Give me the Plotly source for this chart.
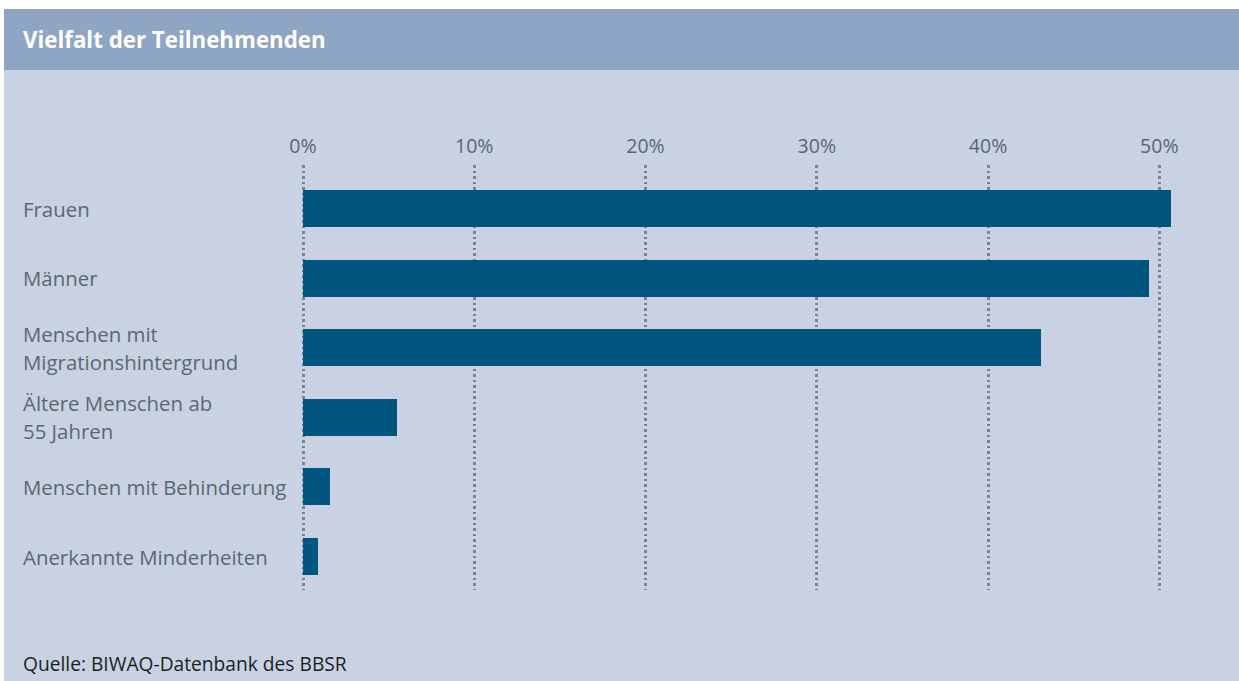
import plotly.graph_objects as go

# Data
categories = [
    "Frauen",
    "Männer",
    "Menschen mit<br>Migrationshintergrund",
    "Ältere Menschen ab<br>55 Jahren",
    "Menschen mit Behinderung",
    "Anerkannte Minderheiten",
]
shares = [50.7, 49.4, 43.1, 5.5, 1.6, 0.9]
tick_values = [0, 10, 20, 30, 40, 50]
tick_labels = ["0%", "10%", "20%", "30%", "40%", "50%"]

title_text = "Vielfalt der Teilnehmenden"
source_text = "Quelle: BIWAQ-Datenbank des BBSR"

# Styling
FONT = "Open Sans"
BAR = "#00567f"
PANEL = "#c8d2e2"
HEADER = "#8fa5c4"
LABEL = "#5b6770"
GRID = "#7a858e"

W, H = 1239, 681
ML, MR, MT, MB = 300, 28, 165, 91
PW, PH = W - ML - MR, H - MT - MB

# x scale: ~17.13 px per percentage point, with a little room left of 0 %
PX_PER_UNIT = 17.126
X_LO = -3 / PX_PER_UNIT
X_HI = X_LO + PW / PX_PER_UNIT


def px_x(px):
    return (px - ML) / PW


def px_y(py):
    return (H - MB - py) / PH


fig = go.Figure(
    go.Bar(
        x=shares,
        y=list(range(len(categories))),
        orientation="h",
        marker=dict(color=BAR, line=dict(width=0)),
        width=0.53,
        hoverinfo="skip",
    )
)

shapes = [
    dict(type="rect", xref="paper", yref="paper", layer="below",
         x0=px_x(4), x1=px_x(W), y0=px_y(9), y1=px_y(H),
         fillcolor=PANEL, line=dict(width=0)),
    dict(type="rect", xref="paper", yref="paper", layer="below",
         x0=px_x(4), x1=px_x(W), y0=px_y(9), y1=px_y(70),
         fillcolor=HEADER, line=dict(width=0)),
]

annotations = [
    dict(text=f"<b>{title_text}</b>", xref="paper", yref="paper",
         x=px_x(23), y=px_y(39), xanchor="left", yanchor="middle",
         borderpad=0, borderwidth=0,
         showarrow=False, font=dict(family=FONT, size=22.3, color="white")),
    dict(text=source_text, xref="paper", yref="paper",
         x=px_x(23), y=px_y(663), xanchor="left", yanchor="middle",
         borderpad=0, borderwidth=0,
         showarrow=False, font=dict(family=FONT, size=19.2, color="#1e1e1e")),
]

# Category labels, left aligned, one annotation per text line
line_gap = 28
for i, cat in enumerate(categories):
    lines = cat.split("<br>")
    n = len(lines)
    for j, line in enumerate(lines):
        shift = ((n - 1) / 2 - j) * line_gap
        annotations.append(dict(
            text=line, xref="paper", yref="y",
            x=px_x(23), y=i, xanchor="left", yanchor="middle",
            yshift=shift, showarrow=False, borderpad=0, borderwidth=0,
            font=dict(family=FONT, size=20.4, color=LABEL),
        ))

fig.update_layout(
    width=W, height=H,
    margin=dict(l=ML, r=MR, t=MT, b=MB, pad=0),
    paper_bgcolor="white",
    plot_bgcolor="rgba(0,0,0,0)",
    showlegend=False,
    bargap=0,
    shapes=shapes,
    annotations=annotations,
    xaxis=dict(
        range=[X_LO, X_HI], side="top",
        tickvals=tick_values, ticktext=tick_labels,
        showgrid=True, gridcolor=GRID, gridwidth=2.5, griddash="2.5px,3px",
        zeroline=False, showline=False, ticks="",
        ticklabelstandoff=7,
        tickfont=dict(family=FONT, size=19.5, color=LABEL),
        fixedrange=True,
    ),
    yaxis=dict(
        range=[5.481, -0.625],
        showgrid=False, zeroline=False, showline=False,
        showticklabels=False, ticks="", fixedrange=True,
    ),
)

fig.write_html("out.html")
